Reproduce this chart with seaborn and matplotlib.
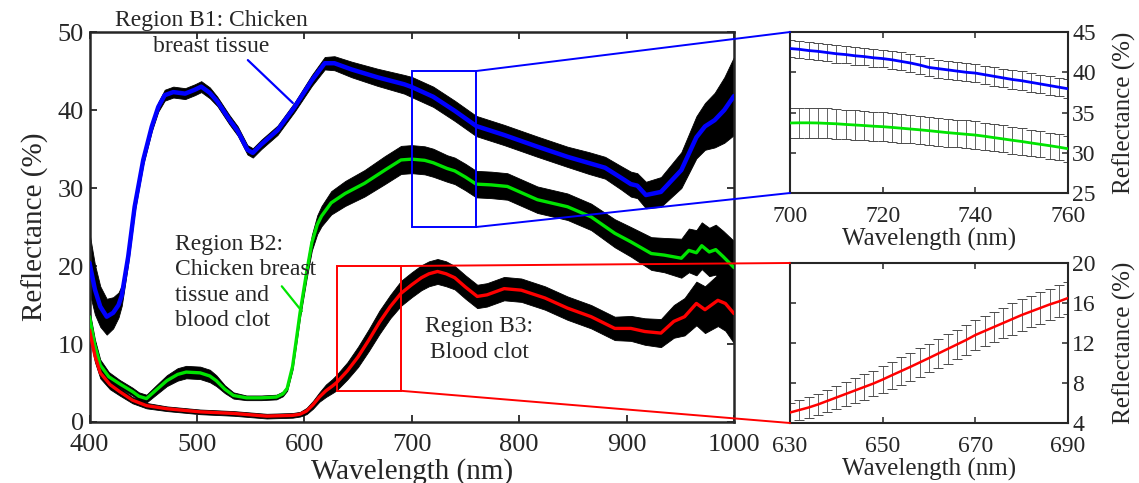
import numpy as np
import seaborn as sns
import matplotlib
matplotlib.use("Agg")
import matplotlib.pyplot as plt
from matplotlib.patches import Rectangle, ConnectionPatch

# Region B1: chicken breast tissue (wavelength nm, reflectance %, error %)
wl_b1 = [400, 405, 410, 416, 422, 427, 430, 436, 442, 450, 458, 464, 470, 478, 489, 498, 504,
         512, 519, 530, 538, 547, 552, 560, 575, 591, 607, 619, 628, 644, 668, 693, 700, 720,
         740, 760, 786, 817, 845, 865, 880, 895, 904, 910, 918, 932, 951, 965, 973, 982, 991, 1000]
r_b1 = [20.4, 17.0, 14.8, 13.5, 14.0, 15.0, 16.2, 21.2, 27.6, 33.6, 37.9, 40.4, 41.9, 42.3, 42.1, 42.6, 43.0,
        42.2, 41.1, 38.8, 37.3, 34.9, 34.5, 35.6, 37.4, 40.4, 43.8, 46.0, 46.0, 45.2, 44.2, 43.3, 42.95, 41.7,
        39.9, 37.95, 36.8, 35.3, 34.0, 33.2, 32.6, 31.3, 30.5, 30.3, 29.1, 29.5, 32.3, 36.5, 37.9, 38.7, 40.0, 41.8]
e_b1 = [3.8, 3.2, 2.6, 2.3, 2.0, 1.6, 1.3, 0.9, 0.7, 0.6, 0.6, 0.6, 0.7, 0.7, 0.7, 0.7, 0.7,
        0.7, 0.6, 0.6, 0.6, 0.6, 0.6, 0.6, 0.6, 0.6, 0.7, 0.8, 0.9, 1.0, 1.1, 1.2, 1.3, 1.3,
        1.3, 1.3, 1.3, 1.3, 1.3, 1.4, 1.4, 1.5, 1.6, 1.6, 1.7, 1.9, 2.3, 2.7, 3.0, 3.5, 4.2, 5.0]

# Region B2: chicken breast tissue and blood clot
wl_b2 = [400, 405, 410, 418, 428, 440, 446, 453, 462, 472, 482, 490, 503, 512, 518, 526, 534,
         546, 560, 574, 580, 584, 589, 593, 596, 602, 607, 612, 616, 625, 638, 656, 675, 690,
         700, 712, 720, 733, 740, 750, 760, 774, 789, 817, 845, 867, 889, 904, 923, 935, 951,
         958, 965, 970, 977, 983, 990, 1000]
r_b2 = [13.5, 9.8, 7.3, 5.8, 4.9, 3.9, 3.3, 3.0, 4.1, 5.3, 6.1, 6.4, 6.3, 5.9, 5.3, 4.2, 3.4,
        3.1, 3.1, 3.2, 3.6, 4.3, 7.1, 11.0, 14.0, 19.1, 23.0, 25.3, 26.4, 28.1, 29.3, 30.6, 32.3, 33.6,
        33.7, 33.55, 33.24, 32.5, 32.2, 31.4, 30.5, 30.4, 30.2, 28.5, 27.6, 26.3, 24.2, 23.1, 21.6, 21.4, 21.0,
        22.0, 21.7, 22.6, 21.8, 22.1, 21.2, 19.8]
e_b2 = [0.8, 0.8, 0.7, 0.6, 0.5, 0.5, 0.5, 0.5, 0.6, 0.7, 0.8, 0.8, 0.8, 0.8, 0.7, 0.5, 0.4,
        0.3, 0.3, 0.3, 0.3, 0.3, 0.4, 0.5, 0.6, 0.8, 1.0, 1.2, 1.3, 1.5, 1.6, 1.7, 1.8, 1.8,
        1.8, 1.8, 1.8, 1.7, 1.7, 1.7, 1.7, 1.7, 1.7, 1.7, 1.7, 1.7, 1.8, 1.9, 2.1, 2.2, 2.5,
        2.8, 2.9, 3.0, 3.1, 3.2, 3.3, 3.4]

# Region B3: blood clot
wl_b3 = [400, 405, 410, 419, 428, 440, 453, 472, 503, 534, 565, 589, 596, 602, 608, 614, 620,
         626, 630, 640, 650, 660, 670, 680, 690, 700, 709, 716, 724, 732, 740, 750, 761, 770,
         786, 802, 824, 845, 867, 889, 904, 917, 932, 944, 954, 965, 973, 985, 992, 1000]
r_b3 = [11.8, 8.5, 6.3, 4.8, 3.9, 2.8, 2.1, 1.7, 1.3, 1.1, 0.75, 0.85, 1.0, 1.4, 2.2, 3.2, 4.0,
        4.6, 5.05, 6.55, 8.35, 10.5, 12.8, 14.8, 16.5, 17.6, 18.5, 19.0, 19.3, 19.0, 18.5, 17.3, 16.1, 16.3,
        17.1, 16.9, 15.9, 14.6, 13.5, 12.0, 12.0, 11.6, 11.4, 12.9, 13.5, 15.2, 14.4, 15.6, 15.2, 13.9]
e_b3 = [0.8, 0.8, 0.7, 0.6, 0.5, 0.4, 0.35, 0.3, 0.3, 0.3, 0.3, 0.3, 0.3, 0.4, 0.5, 0.6, 0.8,
        0.9, 1.0, 1.1, 1.3, 1.4, 1.5, 1.5, 1.6, 1.6, 1.6, 1.6, 1.6, 1.6, 1.5, 1.5, 1.5, 1.5,
        1.5, 1.5, 1.5, 1.5, 1.5, 1.5, 1.6, 1.7, 1.8, 2.1, 2.4, 2.8, 3.0, 3.3, 3.5, 3.8]

# zoom 1: 700-760 nm, error bars every 2 nm
wl_z1 = list(range(700, 761, 2))
r_z1_b1 = [42.95, 42.85, 42.7, 42.6, 42.45, 42.3, 42.2, 42.05, 41.95, 41.8, 41.7, 41.55, 41.35, 41.15, 40.9, 40.6,
           40.45, 40.3, 40.15, 40.0, 39.9, 39.7, 39.5, 39.3, 39.1, 38.95, 38.75, 38.55, 38.35, 38.15, 37.95]
e_z1_b1 = [1.07, 1.07, 1.08, 1.08, 1.08, 1.09, 1.09, 1.1, 1.1, 1.1, 1.1, 1.11, 1.11, 1.12, 1.12, 1.12,
           1.13, 1.13, 1.13, 1.14, 1.14, 1.14, 1.15, 1.15, 1.15, 1.15, 1.16, 1.16, 1.16, 1.16, 1.16]
r_z1_b2 = [33.7, 33.72, 33.72, 33.7, 33.65, 33.6, 33.52, 33.45, 33.38, 33.3, 33.24, 33.15, 33.05, 32.95, 32.85, 32.74,
           32.62, 32.5, 32.4, 32.3, 32.2, 32.05, 31.88, 31.72, 31.55, 31.4, 31.22, 31.05, 30.88, 30.7, 30.5]
e_z1_b2 = [1.9, 1.9, 1.89, 1.88, 1.87, 1.86, 1.85, 1.84, 1.83, 1.82, 1.8, 1.79, 1.78, 1.77, 1.76, 1.75,
           1.74, 1.73, 1.72, 1.71, 1.7, 1.69, 1.68, 1.67, 1.66, 1.65, 1.64, 1.63, 1.62, 1.61, 1.6]

# zoom 2: 630-690 nm, error bars every 2 nm
wl_z2 = list(range(630, 691, 2))
r_z2_b3 = [5.05, 5.3, 5.55, 5.85, 6.2, 6.55, 6.9, 7.25, 7.6, 7.95, 8.35, 8.78, 9.2, 9.62, 10.06, 10.5,
           10.95, 11.4, 11.85, 12.3, 12.8, 13.2, 13.6, 14.0, 14.4, 14.8, 15.15, 15.5, 15.85, 16.15, 16.5]
e_z2_b3 = [0.97, 1.0, 1.04, 1.08, 1.12, 1.16, 1.2, 1.23, 1.26, 1.29, 1.32, 1.35, 1.37, 1.39, 1.41, 1.43,
           1.45, 1.47, 1.48, 1.5, 1.51, 1.52, 1.53, 1.54, 1.55, 1.56, 1.57, 1.58, 1.59, 1.6, 1.6]

c_blue = "#0000ff"
c_green = "#00e400"
c_red = "#ff0000"

sns.set_style("ticks")
plt.rcParams["font.family"] = ["Liberation Serif", "DejaVu Serif"]

fig = plt.figure(figsize=(11.39, 4.83), dpi=100)
ax = fig.add_axes([0.0786, 0.1263, 0.5658, 0.8074])

series = [(wl_b1, r_b1, e_b1, c_blue, 3.2),
          (wl_b2, r_b2, e_b2, c_green, 2.4),
          (wl_b3, r_b3, e_b3, c_red, 2.4)]
# black error bands first, then the mean lines
for wl, r, e, c, lw in series:
    r = np.array(r)
    e = np.array(e)
    ax.fill_between(wl, r - e, r + e, color="black", lw=0.6, zorder=2)
for wl, r, e, c, lw in series:
    sns.lineplot(x=wl, y=r, ax=ax, color=c, lw=lw, zorder=3, sort=False, estimator=None)

ax.set_xlim(400, 1000)
ax.set_ylim(0, 50)
ax.set_xticks(range(400, 1001, 100))
ax.set_yticks(range(0, 51, 10))
ax.tick_params(direction="in", top=True, right=True, length=5, width=1.3, labelsize=19, pad=4)
ax.tick_params(axis="x", pad=9)
for s in ax.spines.values():
    s.set_linewidth(1.8)
ax.set_xlabel("Wavelength (nm)", fontsize=21, labelpad=1)
ax.set_ylabel("Reflectance (%)", fontsize=21, labelpad=6)

# annotations
ax.text(513, 49.85, "Region B1: Chicken\nbreast tissue", fontsize=17, ha="center", va="center",
        linespacing=1.3, clip_on=False, zorder=5)
ax.plot([547.4, 589.3], [46.4, 40.9], color=c_blue, lw=1.6, zorder=5)
ax.text(479.5, 17.9, "Region B2:\nChicken breast\ntissue and\nblood clot", fontsize=17, ha="left",
        va="center", linespacing=1.28, zorder=5)
ax.plot([579, 597.7], [17.4, 14.2], color=c_green, lw=1.6, zorder=5)
ax.text(763, 10.6, "Region B3:\nBlood clot", fontsize=17, ha="center", va="center",
        linespacing=1.3, zorder=5)

ax.add_patch(Rectangle((wl_z1[0], 25), wl_z1[-1] - wl_z1[0], 20, fill=False, ec=c_blue, lw=1.4, zorder=6))
ax.add_patch(Rectangle((wl_z2[0], 4), wl_z2[-1] - wl_z2[0], 16, fill=False, ec=c_red, lw=1.4, zorder=6))

ebar = dict(fmt="none", ecolor="#4a4a4a", elinewidth=0.6, capsize=3.4, capthick=0.7)

# inset 1
axA = fig.add_axes([0.6936, 0.6004, 0.2441, 0.3333])
axA.errorbar(wl_z1, r_z1_b1, yerr=e_z1_b1, **ebar)
axA.errorbar(wl_z1, r_z1_b2, yerr=e_z1_b2, **ebar)
sns.lineplot(x=wl_z1, y=r_z1_b1, ax=axA, color=c_blue, lw=2.0, zorder=3)
sns.lineplot(x=wl_z1, y=r_z1_b2, ax=axA, color=c_green, lw=2.0, zorder=3)
axA.set_xlim(700, 760)
axA.set_ylim(25, 45)
axA.set_xticks([700, 720, 740, 760])
axA.set_yticks([25, 30, 35, 40, 45])

# inset 2
axB = fig.add_axes([0.6936, 0.1242, 0.2441, 0.3313])
axB.errorbar(wl_z2, r_z2_b3, yerr=e_z2_b3, **ebar)
sns.lineplot(x=wl_z2, y=r_z2_b3, ax=axB, color=c_red, lw=1.8, zorder=3)
axB.set_xlim(630, 690)
axB.set_ylim(4, 20)
axB.set_xticks([630, 650, 670, 690])
axB.set_yticks([4, 8, 12, 16, 20])

for a in (axA, axB):
    a.yaxis.tick_right()
    a.yaxis.set_label_position("right")
    a.tick_params(direction="in", top=True, left=True, right=True, length=4, width=1.1,
                  labelsize=17, labelleft=False, labelright=True, pad=3)
    a.tick_params(axis="x", pad=9)
    for s in a.spines.values():
        s.set_linewidth(1.5)
    a.set_xlabel("Wavelength (nm)", fontsize=18, labelpad=1)
    a.set_ylabel("Reflectance (%)", fontsize=18, labelpad=12)

# connector lines from the boxes to the zoom panels
for xyA, axis, xyB, c in [((wl_z1[-1], 45), axA, (0, 1), c_blue),
                          ((wl_z1[-1], 25), axA, (0, 0), c_blue),
                          ((wl_z2[-1], 20), axB, (0, 1), c_red),
                          ((wl_z2[-1], 4), axB, (0, 0), c_red)]:
    fig.add_artist(ConnectionPatch(xyA=xyA, coordsA=ax.transData, xyB=xyB, coordsB=axis.transAxes,
                                   color=c, lw=1.4, zorder=6))

fig.savefig("out.png", dpi=100)
